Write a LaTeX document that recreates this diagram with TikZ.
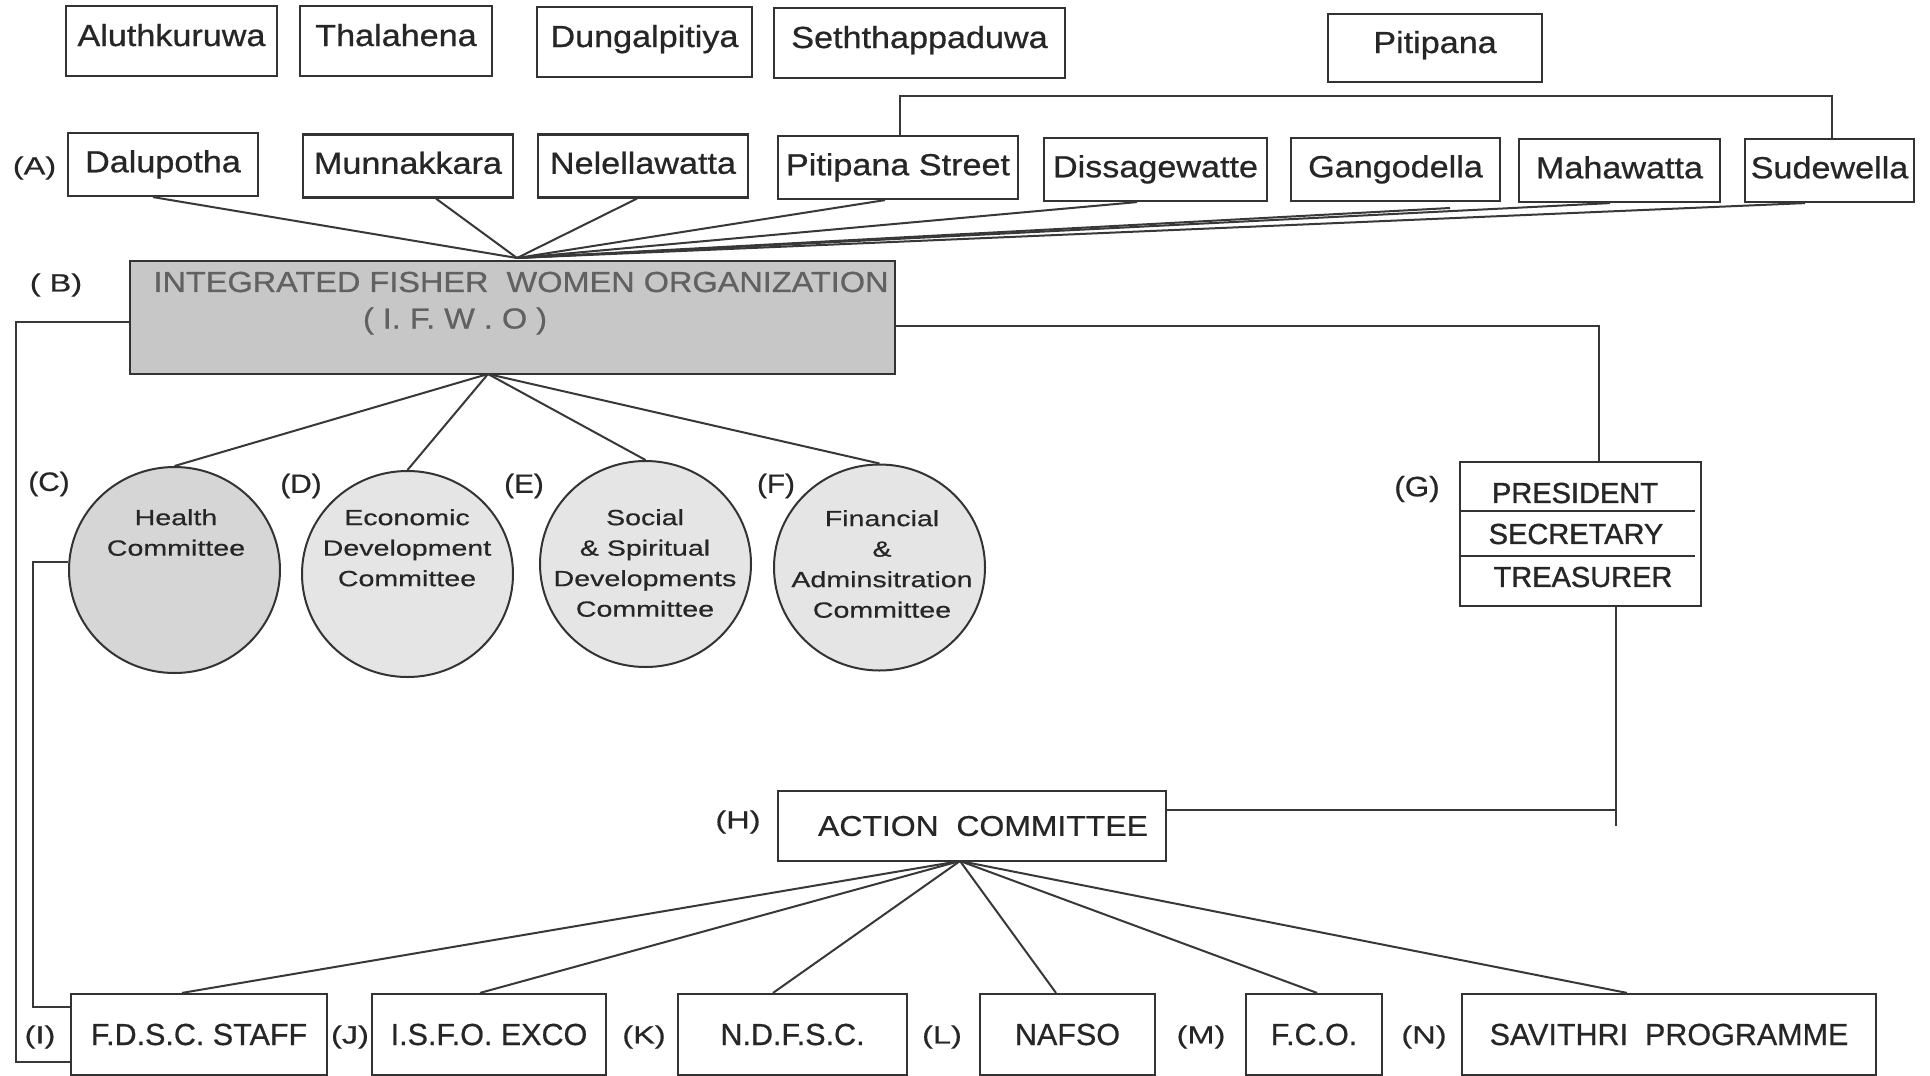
\documentclass[tikz,border=0pt]{standalone}
\usepackage{fontspec}
\setmainfont{Liberation Sans}
\newfontfamily\topfont[FakeStretch=1.12, FakeBold=0.7]{Liberation Sans}
\newfontfamily\circfont[FakeStretch=1.3, FakeBold=0.5]{Liberation Sans}
\newfontfamily\plainfont[FakeBold=0.6]{Liberation Sans}
\newfontfamily\gfont[FakeBold=1.2]{Liberation Sans}
\usetikzlibrary{shapes.geometric}
\begin{document}
\begin{tikzpicture}[x=1pt,y=-1pt,
  ln/.style={draw=black!78, line width=2pt},
  box/.style={draw=black!80, line width=2.2pt, rectangle, inner sep=1pt, text=black!85},
  tbox/.style={box, font=\topfont\fontsize{30.5}{36}\selectfont, text height=22pt, text depth=6.5pt, minimum height=#1},
  tbox/.default=63pt,
  topbox/.style={tbox=70pt, text depth=12pt},
  bbox/.style={box, font=\plainfont\fontsize{30.5}{36}\selectfont, minimum height=81pt},
  lab/.style={inner sep=0pt, text=black!85, font=\topfont\fontsize{26.5}{30}\selectfont},
  blab/.style={inner sep=0pt, text=black!85, font=\circfont\fontsize{25}{30}\selectfont},
  comm/.style={ellipse, draw=black!80, line width=2pt, minimum width=211pt, minimum height=206pt, inner sep=0pt},
  ctext/.style={anchor=north, inner sep=0pt, align=center, text=black!85, font=\circfont\fontsize{22}{30.5}\selectfont},
  ifwotext/.style={inner sep=0pt, text=black!62, font=\topfont\fontsize{29}{34}\selectfont},
  gtext/.style={inner sep=0pt, text=black!85, font=\gfont\fontsize{29}{34}\selectfont},
  div/.style={draw=black!80, line width=1.8pt}
]
\useasboundingbox (0,0) rectangle (1930,1076);
\fill[white] (0,0) rectangle (1930,1076);

% top row
\node[topbox, minimum width=211pt] (alu) at (171.5,41) {Aluthkuruwa};
\node[topbox, minimum width=192pt] (tha) at (396,41) {Thalahena};
\node[topbox, minimum width=215pt] (dun) at (644.5,42) {Dungalpitiya};
\node[topbox, minimum width=291pt] (set) at (919.5,43) {Seththappaduwa};
\node[topbox, minimum height=68pt, minimum width=214pt] (pit) at (1435,48) {Pitipana};

% row A
\node[lab, font=\circfont\fontsize{25}{30}\selectfont] (labA) at (34.5,168) {(A)};
\node[tbox, minimum width=190pt] (dal) at (163,164.5) {Dalupotha};
\node[tbox, minimum width=210pt] (mun) at (408,166) {Munnakkara};
\node[tbox, minimum width=210pt] (nel) at (643,166) {Nelellawatta};
\node[tbox, minimum width=240pt] (ps) at (898,167.5) {Pitipana Street};
\node[tbox, minimum width=223pt] (dis) at (1155.5,169.5) {Dissagewatte};
\node[tbox, minimum width=209pt] (gan) at (1395.5,169.5) {Gangodella};
\node[tbox, minimum width=201pt] (mah) at (1619.5,170.5) {Mahawatta};
\node[tbox, minimum width=169pt] (sud) at (1829.5,170.5) {Sudewella};

\coordinate (br) at (1832,96);
\draw[ln] ([xshift=2pt]ps.north) |- (br) -- ([xshift=2.5pt]sud.north);

% IFWO
\node[draw=black!80, line width=2.2pt, fill=black!22, minimum width=765pt, minimum height=113pt, inner sep=0pt] (B) at (512.5,317.5) {};
\node[ifwotext] (Bt1) at (521,282) {INTEGRATED FISHER\ \ WOMEN ORGANIZATION};
\node[ifwotext] (Bt2) at (455,321) {( I. F. W . O )};
\node[lab, font=\circfont\fontsize{25}{30}\selectfont] (labB) at (56,285) {( B)};

\coordinate (apA) at (517,258);
\coordinate (ganend) at (1450,208);
\draw[ln] ([xshift=-10pt]dal.south) -- (apA);
\draw[ln] ([xshift=28pt]mun.south) -- (apA);
\draw[ln] ([xshift=-6pt]nel.south) -- (apA);
\draw[ln] ([xshift=-13pt]ps.south) -- (apA);
\draw[ln] ([xshift=-18.5pt]dis.south) -- (apA);
\draw[ln] (ganend) -- (apA);
\draw[ln] ([xshift=-9.5pt]mah.south) -- (apA);
\draw[ln] ([xshift=-24.5pt]sud.south) -- (apA);

% committees
\node[comm, fill=black!16] (hc) at (174.5,570) {};
\node[comm, fill=black!10] (ec) at (407.5,574) {};
\node[comm, fill=black!10] (sc) at (645.5,564) {};
\node[comm, fill=black!10] (fc) at (879.5,567.5) {};
\node[ctext] (hct) at (176,509) {Health\\Committee};
\node[ctext] (ect) at (407,509) {Economic\\Development\\Committee};
\node[ctext] (sct) at (645,509) {Social\\\& Spiritual\\Developments\\Committee};
\node[ctext] (fct) at (882,510) {Financial\\\&\\Adminsitration\\Committee};
\node[lab] (labC) at (49,484) {(C)};
\node[lab] (labD) at (301,486) {(D)};
\node[lab] (labE) at (524,486) {(E)};
\node[lab] (labF) at (776,486) {(F)};

\coordinate (apB) at (488,374);
\draw[ln] (apB) -- (hc.north);
\draw[ln] (apB) -- (ec.north);
\draw[ln] (apB) -- (sc.north);
\draw[ln] (apB) -- (fc.north);

% G
\node[box, minimum width=241pt, minimum height=144pt] (G) at (1580.5,534) {};
\draw[div] (1460,511) -- (1695,511);
\draw[div] (1460,556) -- (1695,556);
\node[gtext] (pres) at (1575,493) {PRESIDENT};
\node[gtext] (sec) at (1576,534) {SECRETARY};
\node[gtext] (tre) at (1583,577) {TREASURER};
\node[lab, font=\topfont\fontsize{28}{32}\selectfont] (labG) at (1417,489) {(G)};
\draw[ln] ([yshift=-8pt]B.east) -| ([xshift=18.5pt]G.north);

% H
\node[box, font=\topfont\fontsize{28.5}{34}\selectfont, minimum width=388pt, minimum height=70pt] (H) at (972,826) {\hspace*{22pt}ACTION\ \ COMMITTEE};
\node[blab] (labH) at (738,822) {(H)};
\coordinate (gend) at (1616,826);
\coordinate (gj) at (1616,810);
\draw[ln] ([xshift=35.5pt]G.south) -- (gend);
\draw[ln] ([yshift=16pt]H.east) -- (gj);

% bottom row
\node[bbox, minimum width=256pt] (fdsc) at (199,1034.5) {F.D.S.C. STAFF};
\node[bbox, minimum width=234pt] (isfo) at (489,1034.5) {I.S.F.O. EXCO};
\node[bbox, minimum width=229pt] (ndfsc) at (792.5,1034.5) {N.D.F.S.C.};
\node[bbox, minimum width=175pt] (nafso) at (1067.5,1034.5) {NAFSO};
\node[bbox, minimum width=136pt] (fco) at (1314,1034.5) {F.C.O.};
\node[bbox, minimum width=414pt] (sav) at (1669,1034.5) {SAVITHRI\ \ PROGRAMME};
\node[blab] (labI) at (40,1037) {(I)};
\node[blab] (labJ) at (350,1037) {(J)};
\node[blab] (labK) at (644,1037) {(K)};
\node[blab] (labL) at (942,1037) {(L)};
\node[blab] (labM) at (1201,1037) {(M)};
\node[blab] (labN) at (1424,1037) {(N)};

\coordinate (apH) at (960,861);
\draw[ln] (apH) -- ([xshift=-17pt]fdsc.north);
\draw[ln] (apH) -- ([xshift=-9pt]isfo.north);
\draw[ln] (apH) -- ([xshift=-19.5pt]ndfsc.north);
\draw[ln] (apH) -- ([xshift=-11.5pt]nafso.north);
\draw[ln] (apH) -- ([xshift=3pt]fco.north);
\draw[ln] (apH) -- ([xshift=-42pt]sav.north);

% left connectors
\coordinate (lo) at (16,1062);
\coordinate (li) at (33,1007);
\draw[ln] ([yshift=-4.5pt]B.west) -| (lo) -- (lo -| fdsc.west);
\draw[ln] ([yshift=8pt]hc.west) -| (li) -- (li -| fdsc.west);
\end{tikzpicture}
\end{document}
